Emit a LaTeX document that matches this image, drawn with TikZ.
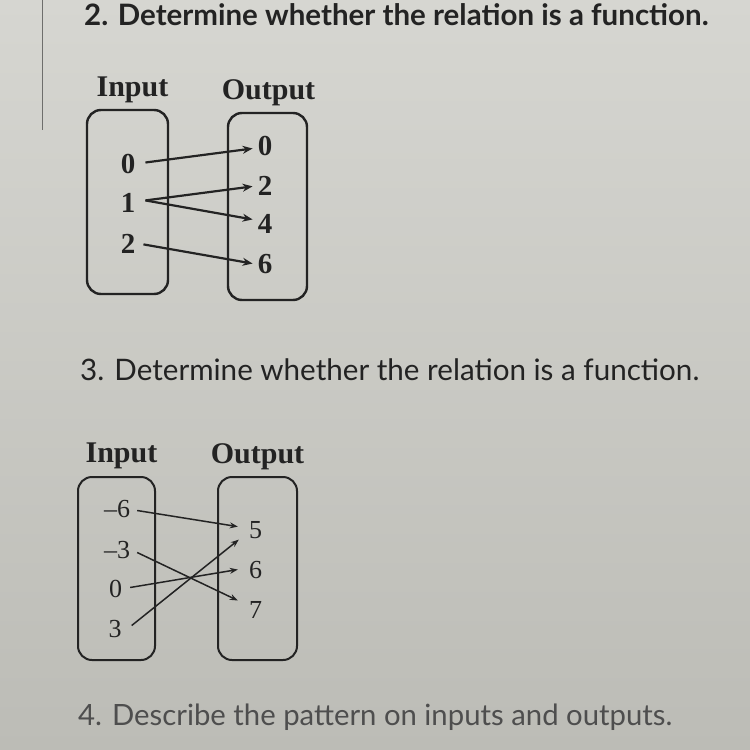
\documentclass[tikz,border=0pt]{standalone}
\usepackage{fontspec}
\setmainfont{Lato}
\newfontfamily\tms{Liberation Serif}
\usetikzlibrary{arrows.meta}
\definecolor{ink}{HTML}{232323}
\definecolor{paleink}{HTML}{4e4e4e}
\begin{document}
\begin{tikzpicture}[x=1pt,y=-1pt,
  heading/.style={anchor=base west,inner sep=0,text=ink,font=\fontsize{29.6}{36}\selectfont},
  lbl/.style={anchor=base,inner sep=0,text=ink,font=\tms\bfseries\fontsize{30}{34}\selectfont},
  numA/.style={anchor=base,inner sep=0,text=ink,font=\tms\bfseries\fontsize{29}{32}\selectfont},
  numB/.style={anchor=base,inner sep=0,text=ink,font=\tms\fontsize{26}{30}\selectfont},
  setbox/.style={draw=ink,line width=2.4pt,rounded corners=14pt},
  mapA/.style={draw=ink,line width=2.2pt,-{Stealth[length=10pt,width=8pt]}},
  mapB/.style={draw=ink,line width=1.5pt,-{Stealth[length=8pt,width=6pt]}}
]
\shade[top color={rgb,255:red,214;green,214;blue,209},bottom color={rgb,255:red,188;green,188;blue,182}] (0,0) rectangle (750,750);
\useasboundingbox (0,0) rectangle (750,750);
\draw[line width=1pt,draw={rgb,255:red,110;green,110;blue,108}] (42,0) coordinate (edgeTop) -- (42,130) coordinate (edgeBot);

% headings
\node[heading,font=\bfseries\fontsize{29.5}{36}\selectfont] (h2) at (84,25) {2. Determine whether the relation is a function.};
\node[heading] (h3) at (80,380) {3. Determine whether the relation is a function.};
\node[heading,text=paleink,font=\fontsize{29.3}{36}\selectfont] (h4) at (78,725) {4. Describe the pattern on inputs and outputs.};

% diagram 1
\node[lbl] (in1) at (132.5,96) {Input};
\node[lbl] (out1) at (268.5,99) {Output};
\node[setbox,minimum width=81pt,minimum height=184pt] (boxA) at (127.5,202) {};
\node[setbox,minimum width=79pt,minimum height=187pt] (boxB) at (267.5,206.5) {};
\node[numA] (a0) at (128,173) {0};
\node[numA] (a1) at (128,212) {1};
\node[numA] (a2) at (128,253) {2};
\node[numA] (b0) at (265,155) {0};
\node[numA] (b2) at (265,195) {2};
\node[numA] (b4) at (265,233) {4};
\node[numA] (b6) at (265,273) {6};
\draw[mapA] ([xshift=10pt,yshift=1pt]a0.east) -- ([xshift=-5pt,yshift=-3pt]b0.west);
\draw[mapA] ([xshift=10pt,yshift=2pt]a1.east) -- ([xshift=-5pt,yshift=-1pt]b2.west);
\draw[mapA] ([xshift=10pt,yshift=2pt]a1.east) -- ([xshift=-5pt,yshift=4pt]b4.west);
\draw[mapA] ([xshift=8pt,yshift=-1pt]a2.east) -- ([xshift=-5pt,yshift=0pt]b6.west);

% diagram 2
\node[lbl] (in2) at (121.5,462) {Input};
\node[lbl] (out2) at (257.5,463) {Output};
\node[setbox,line width=2pt,minimum width=77pt,minimum height=183pt] (boxC) at (116.5,568.5) {};
\node[setbox,line width=2pt,minimum width=79pt,minimum height=183pt] (boxD) at (257.5,568.5) {};
\node[numB] (c6) at (117,517) {\textendash6};
\node[numB] (c3) at (117,558) {\textendash3};
\node[numB] (c0) at (115.5,597) {0};
\node[numB] (cp) at (115,637) {3};
\node[numB] (d5) at (255.5,538) {5};
\node[numB] (d6) at (255.5,578) {6};
\node[numB] (d7) at (255.5,618) {7};
\draw[mapB] ([xshift=7pt,yshift=-2pt]c6.east) -- ([xshift=-11pt,yshift=3pt]d5.west);
\draw[mapB] ([xshift=7pt,yshift=-3pt]c3.east) -- ([xshift=-11pt,yshift=9pt]d7.west);
\draw[mapB] ([xshift=8pt,yshift=1pt]c0.east) -- ([xshift=-11pt,yshift=0pt]d6.west);
\draw[mapB] ([xshift=10pt,yshift=3pt]cp.east) -- ([xshift=-10pt,yshift=-10pt]d5.west);
\end{tikzpicture}
\end{document}
